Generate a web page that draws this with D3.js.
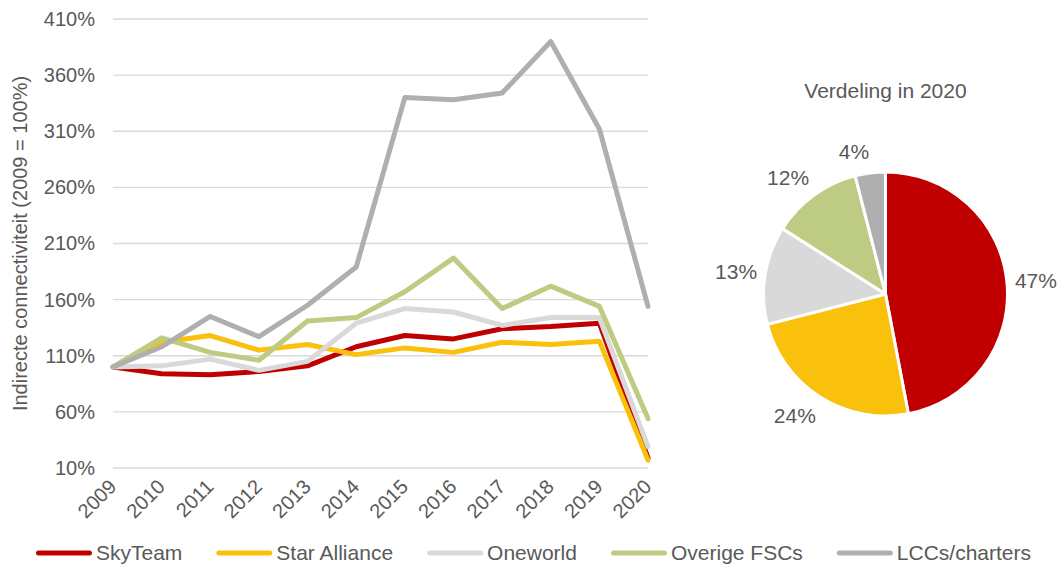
<!DOCTYPE html>
<html>
<head>
<meta charset="utf-8">
<script src="https://cdn.jsdelivr.net/npm/d3@7"></script>
<style>
  body { margin: 0; background: #fff; }
  svg { display: block; font-family: "Liberation Sans", Arial, sans-serif; }
</style>
</head>
<body>
<svg id="chart" width="1057" height="568"></svg>
<script>
const years = ["2009","2010","2011","2012","2013","2014","2015","2016","2017","2018","2019","2020"];
const yTicks = [10, 60, 110, 160, 210, 260, 310, 360, 410];
const seriesNames = ["SkyTeam", "Star Alliance", "Oneworld", "Overige FSCs", "LCCs/charters"];
const skyTeam      = [100, 94, 93, 96, 101, 118, 128, 125, 134, 136, 139, 19];
const starAlliance = [100, 122, 128, 115, 120, 111, 117, 113, 122, 120, 123, 17];
const oneworld     = [100, 101, 107, 97, 105, 139, 152, 149, 137, 144, 144, 29];
const overigeFSCs  = [100, 126, 113, 106, 141, 144, 167, 197, 152, 172, 154, 54];
const lccCharters  = [100, 118, 145, 127, 155, 189, 340, 338, 344, 390, 312, 154];
const pieLabels = ["SkyTeam", "Star Alliance", "Oneworld", "Overige FSCs", "LCCs/charters"];
const pieValues = [47, 24, 13, 12, 4];
const colors = ["#C00000", "#F9C10B", "#D9D9D9", "#BDCB83", "#AFAFAF"];

const seriesData = [skyTeam, starAlliance, oneworld, overigeFSCs, lccCharters];
const textColor = "#595959";
const svg = d3.select("#chart");

// ---------- Line chart ----------
const x = d3.scalePoint().domain(years).range([113, 648]);
const y = d3.scaleLinear().domain([10, 410]).range([468, 19]);

const grid = svg.append("g");
grid.selectAll("line").data(yTicks).join("line")
  .attr("x1", x.range()[0]).attr("x2", x.range()[1])
  .attr("y1", d => y(d)).attr("y2", d => y(d))
  .attr("stroke", "#D9D9D9").attr("stroke-width", 1.3);

const yAxis = d3.axisLeft(y).tickValues(yTicks).tickFormat(d => d + "%").tickSize(0).tickPadding(0);
const gy = svg.append("g").attr("transform", "translate(95,0)").call(yAxis);
gy.select(".domain").remove();
gy.selectAll("text").attr("font-size", 20).attr("fill", textColor)
  .attr("font-family", "Liberation Sans, Arial, sans-serif");

const xAxis = d3.axisBottom(x).tickSize(0).tickPadding(0);
const gx = svg.append("g").attr("transform", "translate(0,468)").call(xAxis);
gx.select(".domain").remove();
gx.selectAll("text")
  .attr("font-size", 20).attr("fill", textColor)
  .attr("font-family", "Liberation Sans, Arial, sans-serif")
  .attr("text-anchor", "end")
  .attr("dy", 0)
  .attr("transform", "translate(4,20) rotate(-45)");

svg.append("text")
  .attr("transform", `translate(27,${(y.range()[0] + y.range()[1]) / 2}) rotate(-90)`)
  .attr("text-anchor", "middle")
  .attr("font-size", 20).attr("fill", textColor)
  .text("Indirecte connectiviteit (2009 = 100%)");

const line = d3.line().x((d, i) => x(years[i])).y(d => y(d));
const drawOrder = [0, 1, 2, 3, 4];
svg.append("g").selectAll("path").data(drawOrder).join("path")
  .attr("d", i => line(seriesData[i]))
  .attr("fill", "none")
  .attr("stroke", i => colors[i])
  .attr("stroke-width", 5)
  .attr("stroke-linejoin", "round")
  .attr("stroke-linecap", "round");

// ---------- Legend ----------
const legend = svg.append("g").attr("transform", "translate(0,553)");
const lineLen = 56, textGap = 4, itemGap = 34;
const items = legend.selectAll("g").data(seriesNames).join("g");
items.append("line").attr("x1", 2.5).attr("x2", lineLen - 2.5).attr("y1", 0).attr("y2", 0)
  .attr("stroke", (d, i) => colors[i]).attr("stroke-width", 5).attr("stroke-linecap", "round");
items.append("text").attr("x", lineLen + textGap).attr("y", 0).attr("dy", "0.35em")
  .attr("font-size", 21).attr("fill", textColor).text(d => d);
let widths = [];
items.each(function() { widths.push(lineLen + textGap + d3.select(this).select("text").node().getComputedTextLength()); });
const total = d3.sum(widths) + itemGap * (widths.length - 1);
let cx = 533.5 - total / 2;
items.attr("transform", (d, i) => { const t = `translate(${cx},0)`; cx += widths[i] + itemGap; return t; });

// ---------- Pie ----------
const pieCx = 885.5, pieCy = 294, r = 122;
svg.append("text").attr("x", pieCx).attr("y", 98).attr("text-anchor", "middle")
  .attr("font-size", 21).attr("fill", textColor).text("Verdeling in 2020");

const pie = d3.pie().sort(null).value(d => d)(pieValues);
const arc = d3.arc().innerRadius(0).outerRadius(r);
const pg = svg.append("g").attr("transform", `translate(${pieCx},${pieCy})`);
pg.selectAll("path").data(pie).join("path")
  .attr("d", arc)
  .attr("fill", (d, i) => colors[i])
  .attr("stroke", "#fff").attr("stroke-width", 3).attr("stroke-linejoin", "round");

pg.selectAll("text").data(pie).join("text")
  .attr("font-size", 21).attr("fill", textColor)
  .attr("text-anchor", "middle").attr("dy", "0.35em")
  .text(d => d.data + "%")
  .each(function(d) {
    const a = (d.startAngle + d.endAngle) / 2;
    const ux = Math.sin(a), uy = -Math.cos(a);
    const w = this.getComputedTextLength(), h = 20;
    const lx = ux * (r + 8) + Math.sign(ux) * w / 2;
    const ly = uy * (r + 8) + uy * h * 0.7;
    d3.select(this).attr("x", lx).attr("y", ly);
  });
</script>
</body>
</html>
